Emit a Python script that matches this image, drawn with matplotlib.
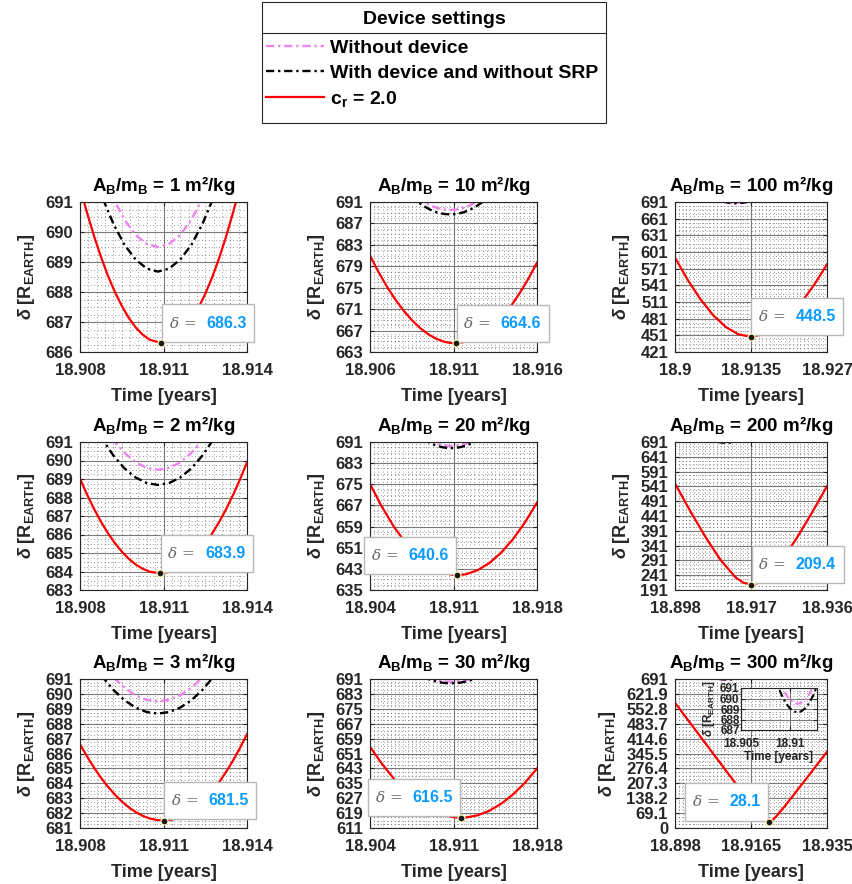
import matplotlib
matplotlib.use('Agg')
import matplotlib.pyplot as plt
from matplotlib.ticker import AutoMinorLocator
from matplotlib.offsetbox import TextArea, HPacker, AnnotationBbox
from matplotlib.lines import Line2D
from matplotlib.patches import Rectangle

plt.rcParams['font.family'] = ['Liberation Sans', 'DejaVu Sans']
plt.rcParams['font.weight'] = 'bold'
plt.rcParams['mathtext.fontset'] = 'custom'
plt.rcParams['mathtext.rm'] = 'Liberation Sans:bold'
plt.rcParams['mathtext.it'] = 'Liberation Sans:italic:bold'
plt.rcParams['mathtext.bf'] = 'Liberation Sans:bold'
plt.rcParams['axes.titleweight'] = 'bold'
plt.rcParams['axes.labelweight'] = 'bold'

# ---------------- data ----------------
ratios = [1, 2, 3, 10, 20, 30, 100, 200, 300]

# shared curves (do not depend on A/m)
pink_t = [18.9088, 18.9092, 18.9096, 18.9100, 18.9104, 18.9108, 18.9112, 18.9116, 18.9120, 18.9124, 18.9128]
pink_d = [692.02, 691.11, 690.41, 689.90, 689.60, 689.50, 689.60, 689.90, 690.41, 691.11, 692.02]
black_t = [18.9084, 18.9088, 18.9092, 18.9096, 18.9100, 18.9104, 18.9108, 18.9112, 18.9116, 18.9120, 18.9124, 18.9128, 18.9132]
black_d = [692.25, 691.16, 690.27, 689.57, 689.08, 688.78, 688.68, 688.78, 689.08, 689.57, 690.27, 691.16, 692.25]

# c_r = 2.0 curves
t_am1 = [18.9080, 18.90825, 18.9085, 18.90875, 18.9090, 18.90925, 18.9095, 18.90975, 18.9100, 18.91025,
         18.9105, 18.91092, 18.91125, 18.9115, 18.91175, 18.9120, 18.91225, 18.9125, 18.91275, 18.9130,
         18.91325, 18.9135, 18.91375, 18.9140]
d_am1 = [691.50, 690.65, 689.88, 689.18, 688.55, 688.01, 687.54, 687.14, 686.82, 686.58,
         686.41, 686.30, 686.37, 686.52, 686.75, 687.06, 687.46, 687.94, 688.49, 689.13,
         689.85, 690.65, 691.53, 692.49]
t_am2 = [18.9080, 18.90825, 18.9085, 18.90875, 18.9090, 18.90925, 18.9095, 18.90975, 18.9100, 18.91025,
         18.9105, 18.91088, 18.91125, 18.9115, 18.91175, 18.9120, 18.91225, 18.9125, 18.91275, 18.9130,
         18.91325, 18.9135, 18.91375, 18.9140]
d_am2 = [689.02, 688.17, 687.40, 686.70, 686.08, 685.54, 685.08, 684.69, 684.38, 684.15,
         683.99, 683.90, 683.99, 684.14, 684.37, 684.68, 685.06, 685.52, 686.06, 686.68,
         687.37, 688.14, 688.98, 689.90]
t_am3 = [18.9080, 18.90825, 18.9085, 18.90875, 18.9090, 18.90925, 18.9095, 18.90975, 18.9100, 18.91025,
         18.9105, 18.91075, 18.9110, 18.91125, 18.9115, 18.91175, 18.9120, 18.91225, 18.9125, 18.91275,
         18.9130, 18.91325, 18.9135, 18.91375, 18.9140]
d_am3 = [686.62, 685.81, 685.06, 684.38, 683.78, 683.25, 682.78, 682.39, 682.07, 681.82,
         681.64, 681.54, 681.50, 681.54, 681.66, 681.86, 682.15, 682.51, 682.95, 683.48,
         684.08, 684.77, 685.53, 686.38, 687.30]
t_am10 = [18.906, 18.9065, 18.907, 18.9075, 18.908, 18.9085, 18.909, 18.9095, 18.910, 18.9105, 18.911,
          18.91114, 18.912, 18.9125, 18.913, 18.9135, 18.914, 18.9145, 18.915, 18.9155, 18.916]
d_am10 = [681.00, 677.99, 675.28, 672.87, 670.77, 668.97, 667.47, 666.29, 665.42, 664.86, 664.61,
          664.60, 665.08, 665.79, 666.83, 668.19, 669.86, 671.85, 674.15, 676.77, 679.68]
t_am20 = [18.904, 18.905, 18.906, 18.907, 18.908, 18.909, 18.910, 18.911, 18.91128, 18.912, 18.913, 18.914, 18.915, 18.916, 18.917, 18.918]
d_am20 = [675.11, 666.45, 658.98, 652.73, 647.75, 644.07, 641.70, 640.65, 640.60, 640.92, 642.44, 645.18, 649.15, 654.31, 660.64, 668.10]
t_am30 = [18.904, 18.905, 18.906, 18.907, 18.908, 18.909, 18.910, 18.911, 18.91162, 18.912, 18.913, 18.914, 18.915, 18.916, 18.917, 18.918]
d_am30 = [654.60, 645.47, 637.51, 630.77, 625.30, 621.13, 618.27, 616.76, 616.50, 616.60, 617.76, 620.24, 624.02, 629.08, 635.38, 642.90]
t_am100 = [18.9, 18.90225, 18.9045, 18.90675, 18.909, 18.91125, 18.91344, 18.91575, 18.918, 18.92025, 18.9225, 18.92475, 18.927]
d_am100 = [590.77, 551.04, 516.30, 487.63, 466.14, 452.86, 448.50, 452.81, 465.07, 484.67, 510.79, 542.46, 578.79]
t_am200 = [18.898, 18.9018, 18.9056, 18.9094, 18.9132, 18.9151, 18.917, 18.9189, 18.9208, 18.9246, 18.9284, 18.9322, 18.936]
d_am200 = [550.58, 458.03, 370.39, 292.12, 232.85, 215.50, 209.40, 215.28, 232.01, 289.43, 365.62, 451.15, 541.62]
t_am300 = [18.898, 18.902, 18.906, 18.910, 18.914, 18.917, 18.919, 18.920, 18.9208, 18.9216, 18.9226, 18.9246, 18.927, 18.931, 18.935]
d_am300 = [580.94, 479.29, 377.71, 276.29, 175.33, 100.71, 53.74, 34.70, 28.10, 34.41, 52.77, 98.38, 156.37, 254.62, 353.41]

red_t = [t_am1, t_am2, t_am3, t_am10, t_am20, t_am30, t_am100, t_am200, t_am300]
red_d = [d_am1, d_am2, d_am3, d_am10, d_am20, d_am30, d_am100, d_am200, d_am300]

min_t = [18.91092, 18.91088, 18.9110, 18.91114, 18.91128, 18.91162, 18.91344, 18.917, 18.9208]
min_d = [686.3, 683.9, 681.5, 664.6, 640.6, 616.5, 448.5, 209.4, 28.1]
tip_labels = ['686.3', '683.9', '681.5', '664.6', '640.6', '616.5', '448.5', '209.4', '28.1']
tip_side = ['right', 'right', 'right', 'right', 'left', 'left', 'right', 'right', 'left']

xlims = [(18.908, 18.914), (18.908, 18.914), (18.908, 18.914),
         (18.906, 18.916), (18.904, 18.918), (18.904, 18.918),
         (18.9, 18.927), (18.898, 18.936), (18.898, 18.935)]
xticks = [[18.908, 18.911, 18.914], [18.908, 18.911, 18.914], [18.908, 18.911, 18.914],
          [18.906, 18.911, 18.916], [18.904, 18.911, 18.918], [18.904, 18.911, 18.918],
          [18.9, 18.9135, 18.927], [18.898, 18.917, 18.936], [18.898, 18.9165, 18.935]]
xtick_labels = [['18.908', '18.911', '18.914'], ['18.908', '18.911', '18.914'], ['18.908', '18.911', '18.914'],
                ['18.906', '18.911', '18.916'], ['18.904', '18.911', '18.918'], ['18.904', '18.911', '18.918'],
                ['18.9', '18.9135', '18.927'], ['18.898', '18.917', '18.936'], ['18.898', '18.9165', '18.935']]
yticks = [[686, 687, 688, 689, 690, 691],
          [683, 684, 685, 686, 687, 688, 689, 690, 691],
          [681, 682, 683, 684, 685, 686, 687, 688, 689, 690, 691],
          [663, 667, 671, 675, 679, 683, 687, 691],
          [635, 643, 651, 659, 667, 675, 683, 691],
          [611, 619, 627, 635, 643, 651, 659, 667, 675, 683, 691],
          [421, 451, 481, 511, 541, 571, 601, 631, 661, 691],
          [191, 241, 291, 341, 391, 441, 491, 541, 591, 641, 691],
          [0, 69.1, 138.2, 207.3, 276.4, 345.5, 414.6, 483.7, 552.8, 621.9, 691]]
ytick_labels = [[str(v) for v in yt] for yt in yticks]

inset_xlim = (18.905, 18.9128)
inset_xticks = [18.905, 18.91]
inset_xtick_labels = ['18.905', '18.91']
inset_yticks = [687, 688, 689, 690, 691]

legend_title = 'Device settings'
legend_labels = ['Without device', 'With device and without SRP', r'c$_\mathrm{r}$ = 2.0']

# ---------------- styling ----------------
PINK = '#ee82ee'
RED = '#ff0000'
TXT = '#262626'
W, H = 853, 884
col_x = [(80, 247), (370, 537), (675, 827)]
row_y = [(202, 352), (442, 590), (679, 828)]
x_minor = [10, 20, 20]
DASH = (0, (3.5, 1.6, 1.0, 1.6))


def rect(x0, x1, y0, y1):
    return [x0 / W, 1 - y1 / H, (x1 - x0) / W, (y1 - y0) / H]


def style(ax, nx, ny, lsize):
    ax.set_axisbelow(True)
    ax.xaxis.set_minor_locator(AutoMinorLocator(nx))
    ax.yaxis.set_minor_locator(AutoMinorLocator(ny))
    ax.grid(which='major', color='#7a7a7a', linewidth=0.8, linestyle='-')
    ax.grid(which='minor', color='#333333', linewidth=0.5, linestyle=(0, (1, 4)))
    for sp in ax.spines.values():
        sp.set_color(TXT)
        sp.set_linewidth(0.8)
    ax.tick_params(which='both', direction='in', top=True, right=True,
                   labelsize=lsize, colors=TXT)
    ax.tick_params(which='major', length=3, width=0.8)
    ax.tick_params(which='minor', length=0)


fig = plt.figure(figsize=(8.53, 8.84), dpi=100)

axes = []
for i, r in enumerate(ratios):
    col, row = i // 3, i % 3
    x0, x1 = col_x[col]
    y0, y1 = row_y[row]
    ax = fig.add_axes(rect(x0, x1, y0, y1))
    axes.append(ax)
    ax.plot(pink_t, pink_d, color=PINK, lw=1.7, ls=DASH)
    ax.plot(black_t, black_d, color='black', lw=1.7, ls=DASH)
    ax.plot(red_t[i], red_d[i], color=RED, lw=1.6)
    ax.set_xlim(*xlims[i])
    ax.set_ylim(yticks[i][0], yticks[i][-1])
    ax.set_xticks(xticks[i])
    ax.set_xticklabels(xtick_labels[i])
    ax.set_yticks(yticks[i])
    ax.set_yticklabels(ytick_labels[i])
    style(ax, x_minor[col], 4, 12)
    ax.tick_params(axis='x', pad=8)
    ax.tick_params(axis='y', pad=5)
    ax.set_title(r'A$_\mathrm{B}$/m$_\mathrm{B}$ = ' + f'{r} m²/kg',
                 fontsize=13.5, color='black', pad=8)
    ax.set_xlabel('Time [years]', fontsize=13, color=TXT, labelpad=7)
    ax.set_ylabel(r'$\delta$ [R$_\mathrm{EARTH}$]', fontsize=13, color=TXT, labelpad=6)

    # data tip
    ax.plot([min_t[i]], [min_d[i]], 'o', ms=5, mfc='#1a1a1a', mec='#fff6b8',
            mew=0.9, zorder=7, clip_on=False)
    ta1 = TextArea('δ =', textprops=dict(family='DejaVu Serif', style='italic',
                                         weight='normal', size=11, color='#666666'))
    ta2 = TextArea(tip_labels[i], textprops=dict(weight='bold', size=11.5,
                                                 color='#0a9bff'))
    pack = HPacker(children=[ta1, ta2], align='baseline', pad=0, sep=7)
    padh = 5.5
    aspect = 1.45
    padv = padh * aspect
    if tip_side[i] == 'right':
        off, align = (padh + 0.5, padv + 1), (0, 0)
    else:
        off, align = (-padh - 0.5, padv + 1), (1, 0)
    ab = AnnotationBbox(pack, (min_t[i], min_d[i]), xybox=off, xycoords='data',
                        boxcoords='offset points', box_alignment=align,
                        frameon=True, pad=0.5, fontsize=11,
                        annotation_clip=False,
                        bboxprops=dict(edgecolor='#b8b8b8', facecolor='white',
                                       linewidth=1.0, mutation_aspect=aspect))
    ab.set_zorder(6)
    ax.add_artist(ab)

# inset in the 300 m²/kg panel
ins = fig.add_axes(rect(741, 817, 688, 730))
ins.set_facecolor('white')
ins.plot(pink_t, pink_d, color=PINK, lw=1.5, ls=DASH)
ins.plot(black_t, black_d, color='black', lw=1.5, ls=DASH)
ins.set_xlim(*inset_xlim)
ins.set_ylim(inset_yticks[0], inset_yticks[-1])
ins.set_xticks(inset_xticks)
ins.set_xticklabels(inset_xtick_labels)
ins.set_yticks(inset_yticks)
ins.set_yticklabels([str(v) for v in inset_yticks])
style(ins, 5, 4, 8.5)
ins.tick_params(axis='x', pad=5.5)
ins.tick_params(axis='y', pad=1)
ins.set_xlabel('Time [years]', fontsize=8.5, color=TXT, labelpad=1)
ins.set_ylabel(r'$\delta$ [R$_\mathrm{EARTH}$]', fontsize=8.5, color=TXT, labelpad=2)

# legend: frame, title, separator, entries
fig.add_artist(Rectangle((262 / W, 1 - 123 / H), (606 - 262) / W, 121 / H,
                         transform=fig.transFigure, facecolor='white',
                         edgecolor=TXT, linewidth=0.8, zorder=3))
fig.text(434 / W, 1 - 20 / H, legend_title, ha='center', va='center',
         fontsize=14, fontweight='bold', color='black', zorder=4)
fig.add_artist(Line2D([262 / W, 606 / W], [1 - 33 / H, 1 - 33 / H],
                      transform=fig.transFigure, color=TXT, lw=0.8, zorder=4))
handles = axes[0].get_lines()[:3]
leg = fig.legend(handles, legend_labels, loc='upper left',
                 bbox_to_anchor=(266 / W, 1 - 39 / H), fontsize=14,
                 frameon=False, handlelength=3.0, handletextpad=0.3,
                 labelspacing=0.38, borderpad=0, borderaxespad=0)
leg.set_zorder(5)
for txt in leg.get_texts():
    txt.set_color('black')

fig.savefig('out.png', dpi=100)
